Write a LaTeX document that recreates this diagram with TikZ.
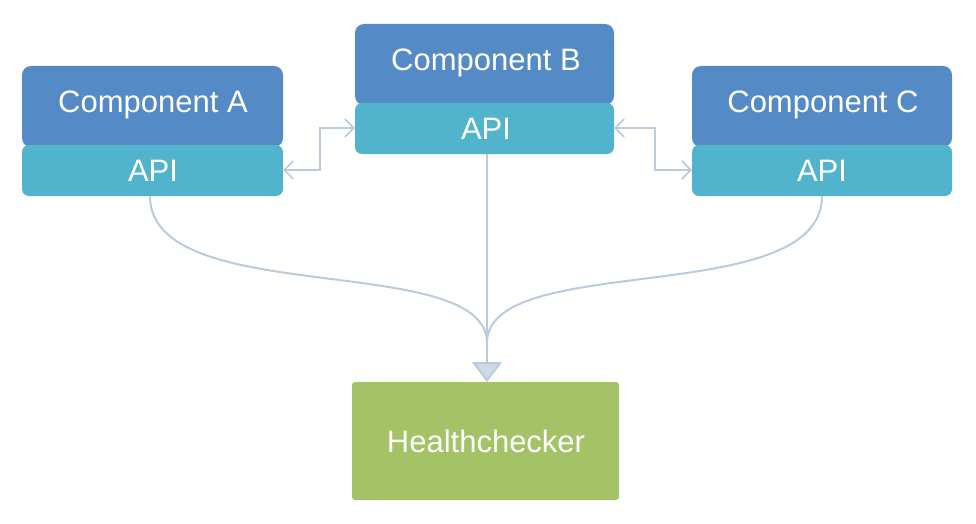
\documentclass[tikz,border=0pt]{standalone}
\usepackage{fontspec}
\setmainfont{Liberation Sans}
\usetikzlibrary{arrows.meta}
\definecolor{compblue}{HTML}{548AC6}
\definecolor{apiblue}{HTML}{52B4CC}
\definecolor{hcgreen}{HTML}{A4C266}
\definecolor{conn}{HTML}{B9CBDC}
\tikzset{
  comp/.style={fill=compblue, rounded corners=9pt},
  api/.style={fill=apiblue, rounded corners=7pt},
  hc/.style={fill=hcgreen, rounded corners=3pt},
  lbl/.style={text=white, font=\fontsize{31}{36}\selectfont, inner sep=0pt},
  link/.style={draw=conn, line width=2.2pt, {Straight Barb[length=9pt,width=18pt,line width=1.6pt]}-{Straight Barb[length=9pt,width=18pt,line width=1.6pt]}},
  feed/.style={draw=conn, line width=2pt},
}
\begin{document}
\begin{tikzpicture}[x=1pt,y=-1pt]
\useasboundingbox (0,0) rectangle (976,524);
% Component A
\path[comp] (22,66) rectangle (283,147);
\node[lbl] (ca) at (153,105) {Component A};
\path[api] (22,145) rectangle (283,196);
\node[lbl] (aa) at (153,171) {API};
\coordinate (aaR) at (283,170);
\coordinate (aaB) at (150,196);
% Component B
\path[comp] (355,24) rectangle (614,105);
\node[lbl] (cb) at (486,63) {Component B};
\path[api] (355,103) rectangle (614,154);
\node[lbl] (ab) at (486,129) {API};
\coordinate (abL) at (355,128);
\coordinate (abR) at (614,128);
\coordinate (abB) at (487,154);
% Component C
\path[comp] (692,66) rectangle (952,147);
\node[lbl] (cc) at (823,105) {Component C};
\path[api] (692,145) rectangle (952,196);
\node[lbl] (ac) at (822,171) {API};
\coordinate (acL) at (692,170);
\coordinate (acB) at (822,196);
% Healthchecker
\path[hc] (352,382) rectangle (619,500);
\node[lbl] (hc) at (486,441) {Healthchecker};
\coordinate (hcT) at (487,382);
\coordinate (merge) at (487,343);
% connectors
\draw[link] (aaR) -- (320,170) -- (320,128) -- (abL);
\draw[link] (abR) -- (655,128) -- (655,170) -- (acL);
\draw[feed] (aaB) .. controls (150,310) and (487,250) .. (merge);
\draw[feed] (acB) .. controls (822,310) and (487,250) .. (merge);
\draw[feed, -{Triangle[length=20pt,width=30pt,fill=conn!70!white]}] (abB) -- (hcT);
\end{tikzpicture}
\end{document}
